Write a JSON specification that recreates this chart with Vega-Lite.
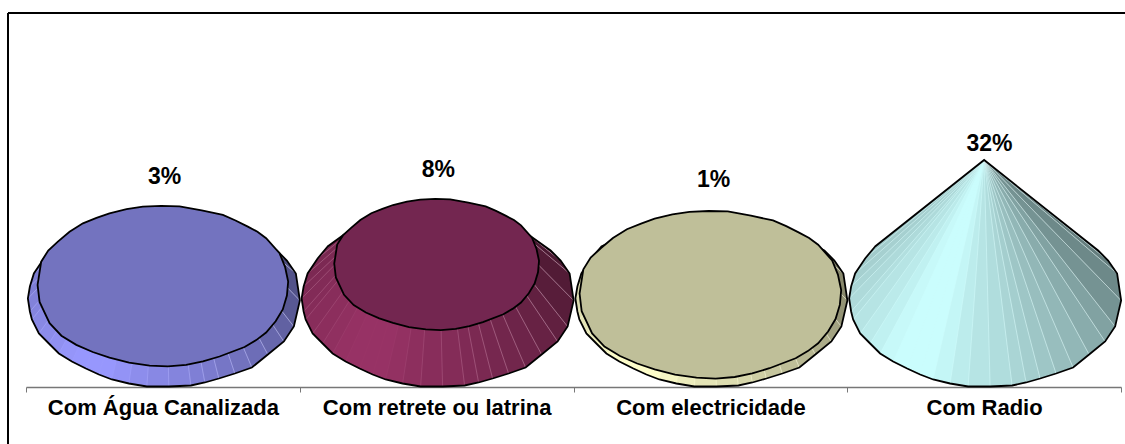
{
"$schema":"https://vega.github.io/schema/vega-lite/v6.json",
"width":1117,"height":431,
"padding":{"left":8,"top":13,"right":0,"bottom":0},
"autosize":{"type":"none"},
"background":"white",
"config":{"view":{"stroke":null}},
"data":{"values":[
{"category":"Com Água Canalizada","value":3,"label":"3%","facet":[0,1,2,3,4,5,6,7,8,9,10,11,12,13,14,15,16,17,18,19,20,21,22,23,24,25,26,27]},
{"category":"Com retrete ou latrina","value":8,"label":"8%","facet":[0,1,2,3,4,5,6,7,8,9,10,11,12,13,14,15,16,17,18,19,20,21,22,23,24,25,26,27]},
{"category":"Com electricidade","value":1,"label":"1%","facet":[0,1,2,3,4,5,6,7,8,9,10,11,12,13,14,15,16,17,18,19,20,21,22,23,24,25,26,27]},
{"category":"Com Radio","value":32,"label":"32%","facet":[0,1,2,3,4,5,6,7,8,9,10,11,12,13,14,15,16,17,18,19,20,21,22,23,24,25,26,27]}
]},
"encoding":{
"x":{"field":"category","type":"nominal","scale":{"type":"band","domain":["Com Água Canalizada","Com retrete ou latrina","Com electricidade","Com Radio"],"range":[18,1113],"paddingInner":0,"paddingOuter":0},
"axis":{"title":null,"orient":"bottom","offset":-57,"labelAngle":0,"labelFont":"Liberation Sans","labelFontWeight":"bold","labelFontSize":22,"labelColor":"black","labelPadding":5,"labelLimit":400,"labelOverlap":false,"domainColor":"#777777","domainWidth":1.5,"tickColor":"#777777","tickWidth":1,"tickSize":5,"tickBand":"extent","grid":false}}
},
"layer":[
{"mark":{"type":"rule","stroke":"black","strokeWidth":2},"encoding":{"x":{"value":0},"y":{"value":0},"y2":{"value":431}}},
{"mark":{"type":"rule","stroke":"black","strokeWidth":2},"encoding":{"x":{"value":0},"x2":{"value":1117},"y":{"value":0}}},
{"mark":{"type":"point","filled":true,"size":4,"stroke":null,"opacity":1},
"encoding":{
"y":{"datum":0,"type":"quantitative","axis":null,"scale":{"domain":[0,32],"range":[285.5,147.9]}},
"fill":{"field":"category","type":"nominal","legend":null,"scale":{"domain":["Com Água Canalizada","Com retrete ou latrina","Com electricidade","Com Radio"],"range":["#9999FF","#993366","#FFFFCC","#CCFFFF"]}},
"shape":{"field":"category","type":"nominal","legend":null,"scale":{"domain":["Com Água Canalizada","Com retrete ou latrina","Com electricidade","Com Radio"],"range":[
"M-109 -52L-119 -40L-129 -25L-133 -12L-135 0L-133 13L-131 21L-124 35L-114 45L-104 55L-91 63L-77 70L-64 76L-51 81L-34 85L-16 88L6 88L28 87L42 84L56 80L72 75L89 69L105 56L121 43L131 28L137 2L133 -25L124 -38L114 -48L100 -55L-96 -58Z",
"M-109 -52L-119 -40L-129 -25L-133 -12L-135 0L-133 13L-131 21L-124 35L-114 45L-104 55L-91 63L-77 70L-64 76L-51 81L-34 85L-16 88L6 88L28 87L42 84L56 80L72 75L89 69L105 56L121 43L131 28L137 2L133 -25L124 -38L114 -48L83 -70L-80 -73Z",
"M-109 -52L-119 -40L-129 -25L-133 -12L-135 0L-133 13L-131 21L-124 35L-114 45L-104 55L-91 63L-77 70L-64 76L-51 81L-34 85L-16 88L6 88L28 87L42 84L56 80L72 75L89 69L105 56L121 43L131 28L137 2L133 -25L124 -38L114 -48L100 -55L-96 -58Z",
"M-109 -52L-119 -40L-129 -25L-133 -12L-135 0L-133 13L-131 21L-124 35L-114 45L-104 55L-91 63L-77 70L-64 76L-51 81L-34 85L-16 88L6 88L28 87L42 84L56 80L72 75L89 69L105 56L121 43L131 28L137 2L133 -25L124 -38L114 -48L0 -138.5Z"
]}}
}},
{"transform":[{"filter":"datum.value==3||datum.value==1"},{"flatten":["facet"]}],
"mark":{"type":"point","filled":true,"size":4,"fill":"black","stroke":"white","strokeWidth":0.5},
"encoding":{
"y":{"datum":0,"type":"quantitative","axis":null,"scale":{"domain":[0,32],"range":[285.5,147.9]}},
"opacity":{"field":"facet","type":"quantitative","legend":null,"scale":{"domain":[0,1,2,3,4,5,6,7,8,9,10,11,12,13,14,15,16,17,18,19,20,21,22,23,24,25,26,27],"range":[0.22,0.2,0.18,0.16,0.14,0.12,0.1,0.08,0.05,0.02,0.005,0.005,0.005,0.03,0.07,0.1,0.13,0.16,0.19,0.22,0.25,0.28,0.32,0.36,0.42,0.46,0.5,0.52]}},
"shape":{"field":"facet","type":"ordinal","legend":null,"scale":{"domain":[0,1,2,3,4,5,6,7,8,9,10,11,12,13,14,15,16,17,18,19,20,21,22,23,24,25,26,27],"range":[
"M-109 -52L-119 -40L-107.1 -50L-96 -58Z",
"M-119 -40L-129 -25L-116.1 -36.5L-107.1 -50Z",
"M-129 -25L-133 -12L-119.7 -24.8L-116.1 -36.5Z",
"M-133 -12L-135 0L-121.5 -14L-119.7 -24.8Z",
"M-135 0L-133 13L-119.7 -2.3L-121.5 -14Z",
"M-133 13L-131 21L-117.9 4.9L-119.7 -2.3Z",
"M-131 21L-124 35L-111.6 17.5L-117.9 4.9Z",
"M-124 35L-114 45L-102.6 26.5L-111.6 17.5Z",
"M-114 45L-104 55L-93.6 35.5L-102.6 26.5Z",
"M-104 55L-91 63L-81.9 42.7L-93.6 35.5Z",
"M-91 63L-77 70L-69.3 49L-81.9 42.7Z",
"M-77 70L-64 76L-57.6 54.4L-69.3 49Z",
"M-64 76L-51 81L-45.9 58.9L-57.6 54.4Z",
"M-51 81L-34 85L-30.6 62.5L-45.9 58.9Z",
"M-34 85L-16 88L-14.4 65.2L-30.6 62.5Z",
"M-16 88L6 88L5.4 65.2L-14.4 65.2Z",
"M6 88L28 87L25.2 64.3L5.4 65.2Z",
"M28 87L42 84L37.8 61.6L25.2 64.3Z",
"M42 84L56 80L50.4 58L37.8 61.6Z",
"M56 80L72 75L64.8 53.5L50.4 58Z",
"M72 75L89 69L80.1 48.1L64.8 53.5Z",
"M89 69L105 56L94.5 36.4L80.1 48.1Z",
"M105 56L121 43L108.9 24.7L94.5 36.4Z",
"M121 43L131 28L117.9 11.2L108.9 24.7Z",
"M131 28L137 2L123.3 -12.2L117.9 11.2Z",
"M137 2L133 -25L119.7 -36.5L123.3 -12.2Z",
"M133 -25L124 -38L111.6 -48.2L119.7 -36.5Z",
"M124 -38L114 -48L100 -55L111.6 -48.2Z"
]}}
}},
{"transform":[{"filter":"datum.value==8"},{"flatten":["facet"]}],
"mark":{"type":"point","filled":true,"size":4,"fill":"black","stroke":"white","strokeWidth":0.5},
"encoding":{
"y":{"datum":0,"type":"quantitative","axis":null,"scale":{"domain":[0,32],"range":[285.5,147.9]}},
"opacity":{"field":"facet","type":"quantitative","legend":null,"scale":{"domain":[0,1,2,3,4,5,6,7,8,9,10,11,12,13,14,15,16,17,18,19,20,21,22,23,24,25,26,27],"range":[0.22,0.2,0.18,0.16,0.14,0.12,0.1,0.08,0.05,0.02,0.005,0.005,0.005,0.03,0.07,0.1,0.13,0.16,0.19,0.22,0.25,0.28,0.32,0.36,0.42,0.46,0.5,0.52]}},
"shape":{"field":"facet","type":"ordinal","legend":null,"scale":{"domain":[0,1,2,3,4,5,6,7,8,9,10,11,12,13,14,15,16,17,18,19,20,21,22,23,24,25,26,27],"range":[
"M-109 -52L-119 -40L-86.9 -66.2L-80 -73Z",
"M-119 -40L-129 -25L-94.2 -55.3L-86.9 -66.2Z",
"M-129 -25L-133 -12L-97.1 -45.8L-94.2 -55.3Z",
"M-133 -12L-135 0L-98.6 -37L-97.1 -45.8Z",
"M-135 0L-133 13L-97.1 -27.5L-98.6 -37Z",
"M-133 13L-131 21L-95.6 -21.7L-97.1 -27.5Z",
"M-131 21L-124 35L-90.5 -11.4L-95.6 -21.7Z",
"M-124 35L-114 45L-83.2 -4.1L-90.5 -11.4Z",
"M-114 45L-104 55L-75.9 3.2L-83.2 -4.1Z",
"M-104 55L-91 63L-66.4 9L-75.9 3.2Z",
"M-91 63L-77 70L-56.2 14.1L-66.4 9Z",
"M-77 70L-64 76L-46.7 18.5L-56.2 14.1Z",
"M-64 76L-51 81L-37.2 22.1L-46.7 18.5Z",
"M-51 81L-34 85L-24.8 25L-37.2 22.1Z",
"M-34 85L-16 88L-11.7 27.2L-24.8 25Z",
"M-16 88L6 88L4.4 27.2L-11.7 27.2Z",
"M6 88L28 87L20.4 26.5L4.4 27.2Z",
"M28 87L42 84L30.7 24.3L20.4 26.5Z",
"M42 84L56 80L40.9 21.4L30.7 24.3Z",
"M56 80L72 75L52.6 17.8L40.9 21.4Z",
"M72 75L89 69L65 13.4L52.6 17.8Z",
"M89 69L105 56L76.7 3.9L65 13.4Z",
"M105 56L121 43L88.3 -5.6L76.7 3.9Z",
"M121 43L131 28L95.6 -16.6L88.3 -5.6Z",
"M131 28L137 2L100 -35.5L95.6 -16.6Z",
"M137 2L133 -25L97.1 -55.3L100 -35.5Z",
"M133 -25L124 -38L90.5 -64.7L97.1 -55.3Z",
"M124 -38L114 -48L83 -70L90.5 -64.7Z"
]}}
}},
{"transform":[{"filter":"datum.value==32"},{"flatten":["facet"]}],
"mark":{"type":"point","filled":true,"size":4,"fill":"black","stroke":"white","strokeWidth":0.5},
"encoding":{
"y":{"datum":0,"type":"quantitative","axis":null,"scale":{"domain":[0,32],"range":[285.5,147.9]}},
"opacity":{"field":"facet","type":"quantitative","legend":null,"scale":{"domain":[0,1,2,3,4,5,6,7,8,9,10,11,12,13,14,15,16,17,18,19,20,21,22,23,24,25,26,27],"range":[0.22,0.2,0.18,0.16,0.14,0.12,0.1,0.08,0.05,0.02,0.005,0.005,0.005,0.03,0.07,0.1,0.13,0.16,0.19,0.22,0.25,0.28,0.32,0.36,0.42,0.46,0.5,0.52]}},
"shape":{"field":"facet","type":"ordinal","legend":null,"scale":{"domain":[0,1,2,3,4,5,6,7,8,9,10,11,12,13,14,15,16,17,18,19,20,21,22,23,24,25,26,27],"range":[
"M0 -138.5L-109 -52L-119 -40Z",
"M0 -138.5L-119 -40L-129 -25Z",
"M0 -138.5L-129 -25L-133 -12Z",
"M0 -138.5L-133 -12L-135 0Z",
"M0 -138.5L-135 0L-133 13Z",
"M0 -138.5L-133 13L-131 21Z",
"M0 -138.5L-131 21L-124 35Z",
"M0 -138.5L-124 35L-114 45Z",
"M0 -138.5L-114 45L-104 55Z",
"M0 -138.5L-104 55L-91 63Z",
"M0 -138.5L-91 63L-77 70Z",
"M0 -138.5L-77 70L-64 76Z",
"M0 -138.5L-64 76L-51 81Z",
"M0 -138.5L-51 81L-34 85Z",
"M0 -138.5L-34 85L-16 88Z",
"M0 -138.5L-16 88L6 88Z",
"M0 -138.5L6 88L28 87Z",
"M0 -138.5L28 87L42 84Z",
"M0 -138.5L42 84L56 80Z",
"M0 -138.5L56 80L72 75Z",
"M0 -138.5L72 75L89 69Z",
"M0 -138.5L89 69L105 56Z",
"M0 -138.5L105 56L121 43Z",
"M0 -138.5L121 43L131 28Z",
"M0 -138.5L131 28L137 2Z",
"M0 -138.5L137 2L133 -25Z",
"M0 -138.5L133 -25L124 -38Z",
"M0 -138.5L124 -38L114 -48Z"
]}}
}},
{"mark":{"type":"point","filled":false,"size":4,"stroke":"black","strokeWidth":1.8,"opacity":1},
"encoding":{
"y":{"datum":0,"type":"quantitative","axis":null,"scale":{"domain":[0,32],"range":[285.5,147.9]}},
"shape":{"field":"category","type":"nominal","legend":null,"scale":{"domain":["Com Água Canalizada","Com retrete ou latrina","Com electricidade","Com Radio"],"range":[
"M-109 -52L-119 -40L-129 -25L-133 -12L-135 0L-133 13L-131 21L-124 35L-114 45L-104 55L-91 63L-77 70L-64 76L-51 81L-34 85L-16 88L6 88L28 87L42 84L56 80L72 75L89 69L105 56L121 43L131 28L137 2L133 -25L124 -38L114 -48L100 -55L-96 -58Z",
"M-109 -52L-119 -40L-129 -25L-133 -12L-135 0L-133 13L-131 21L-124 35L-114 45L-104 55L-91 63L-77 70L-64 76L-51 81L-34 85L-16 88L6 88L28 87L42 84L56 80L72 75L89 69L105 56L121 43L131 28L137 2L133 -25L124 -38L114 -48L83 -70L-80 -73Z",
"M-109 -52L-119 -40L-129 -25L-133 -12L-135 0L-133 13L-131 21L-124 35L-114 45L-104 55L-91 63L-77 70L-64 76L-51 81L-34 85L-16 88L6 88L28 87L42 84L56 80L72 75L89 69L105 56L121 43L131 28L137 2L133 -25L124 -38L114 -48L100 -55L-96 -58Z",
"M-109 -52L-119 -40L-129 -25L-133 -12L-135 0L-133 13L-131 21L-124 35L-114 45L-104 55L-91 63L-77 70L-64 76L-51 81L-34 85L-16 88L6 88L28 87L42 84L56 80L72 75L89 69L105 56L121 43L131 28L137 2L133 -25L124 -38L114 -48L0 -138.5Z"
]}}
}},
{"transform":[{"filter":"datum.value<32"}],
"mark":{"type":"point","filled":true,"stroke":"black","strokeWidth":1.8,"opacity":1,"shape":"M-0.013 -0.636L0.133 -0.633L0.31 -0.6L0.479 -0.564L0.58 -0.52L0.678 -0.471L0.755 -0.43L0.824 -0.378L0.931 -0.258L0.975 -0.15L1 -0.032L0.99 0.08L0.957 0.19L0.9 0.285L0.824 0.375L0.745 0.435L0.652 0.49L0.452 0.566L0.32 0.605L0.186 0.633L0.04 0.645L-0.106 0.638L-0.27 0.615L-0.426 0.574L-0.56 0.53L-0.691 0.473L-0.81 0.4L-0.904 0.3L-0.984 0.13L-1 -0.005L-0.971 -0.191L-0.915 -0.28L-0.838 -0.351L-0.745 -0.43L-0.638 -0.497L-0.53 -0.54L-0.426 -0.577L-0.29 -0.61L-0.16 -0.63Z"},
"encoding":{
"y":{"field":"value","type":"quantitative","axis":null,"scale":{"domain":[0,32],"range":[285.5,147.9]}},
"size":{"field":"value","type":"quantitative","legend":null,"scale":{"domain":[1,3,8],"range":[68434,62800,41943]}},
"fill":{"field":"value","type":"ordinal","legend":null,"scale":{"domain":[3,8,1],"range":["#7373BF","#732650","#BFBF99"]}}
}},
{"mark":{"type":"text","font":"Liberation Sans","fontWeight":"bold","fontSize":23,"color":"black","baseline":"middle","align":"center"},
"encoding":{
"y":{"field":"value","type":"quantitative","axis":null,"scale":{"domain":[1,3,8,32],"range":[167,164,157,131]}},
"xOffset":{"field":"value","type":"quantitative","scale":{"domain":[1,3,8,32],"range":[140.2,138.5,138.7,142.2]}},
"text":{"field":"label","type":"nominal"}
}}
],
"resolve":{"scale":{"shape":"independent","fill":"independent","size":"independent","opacity":"independent","y":"independent"}}
}
